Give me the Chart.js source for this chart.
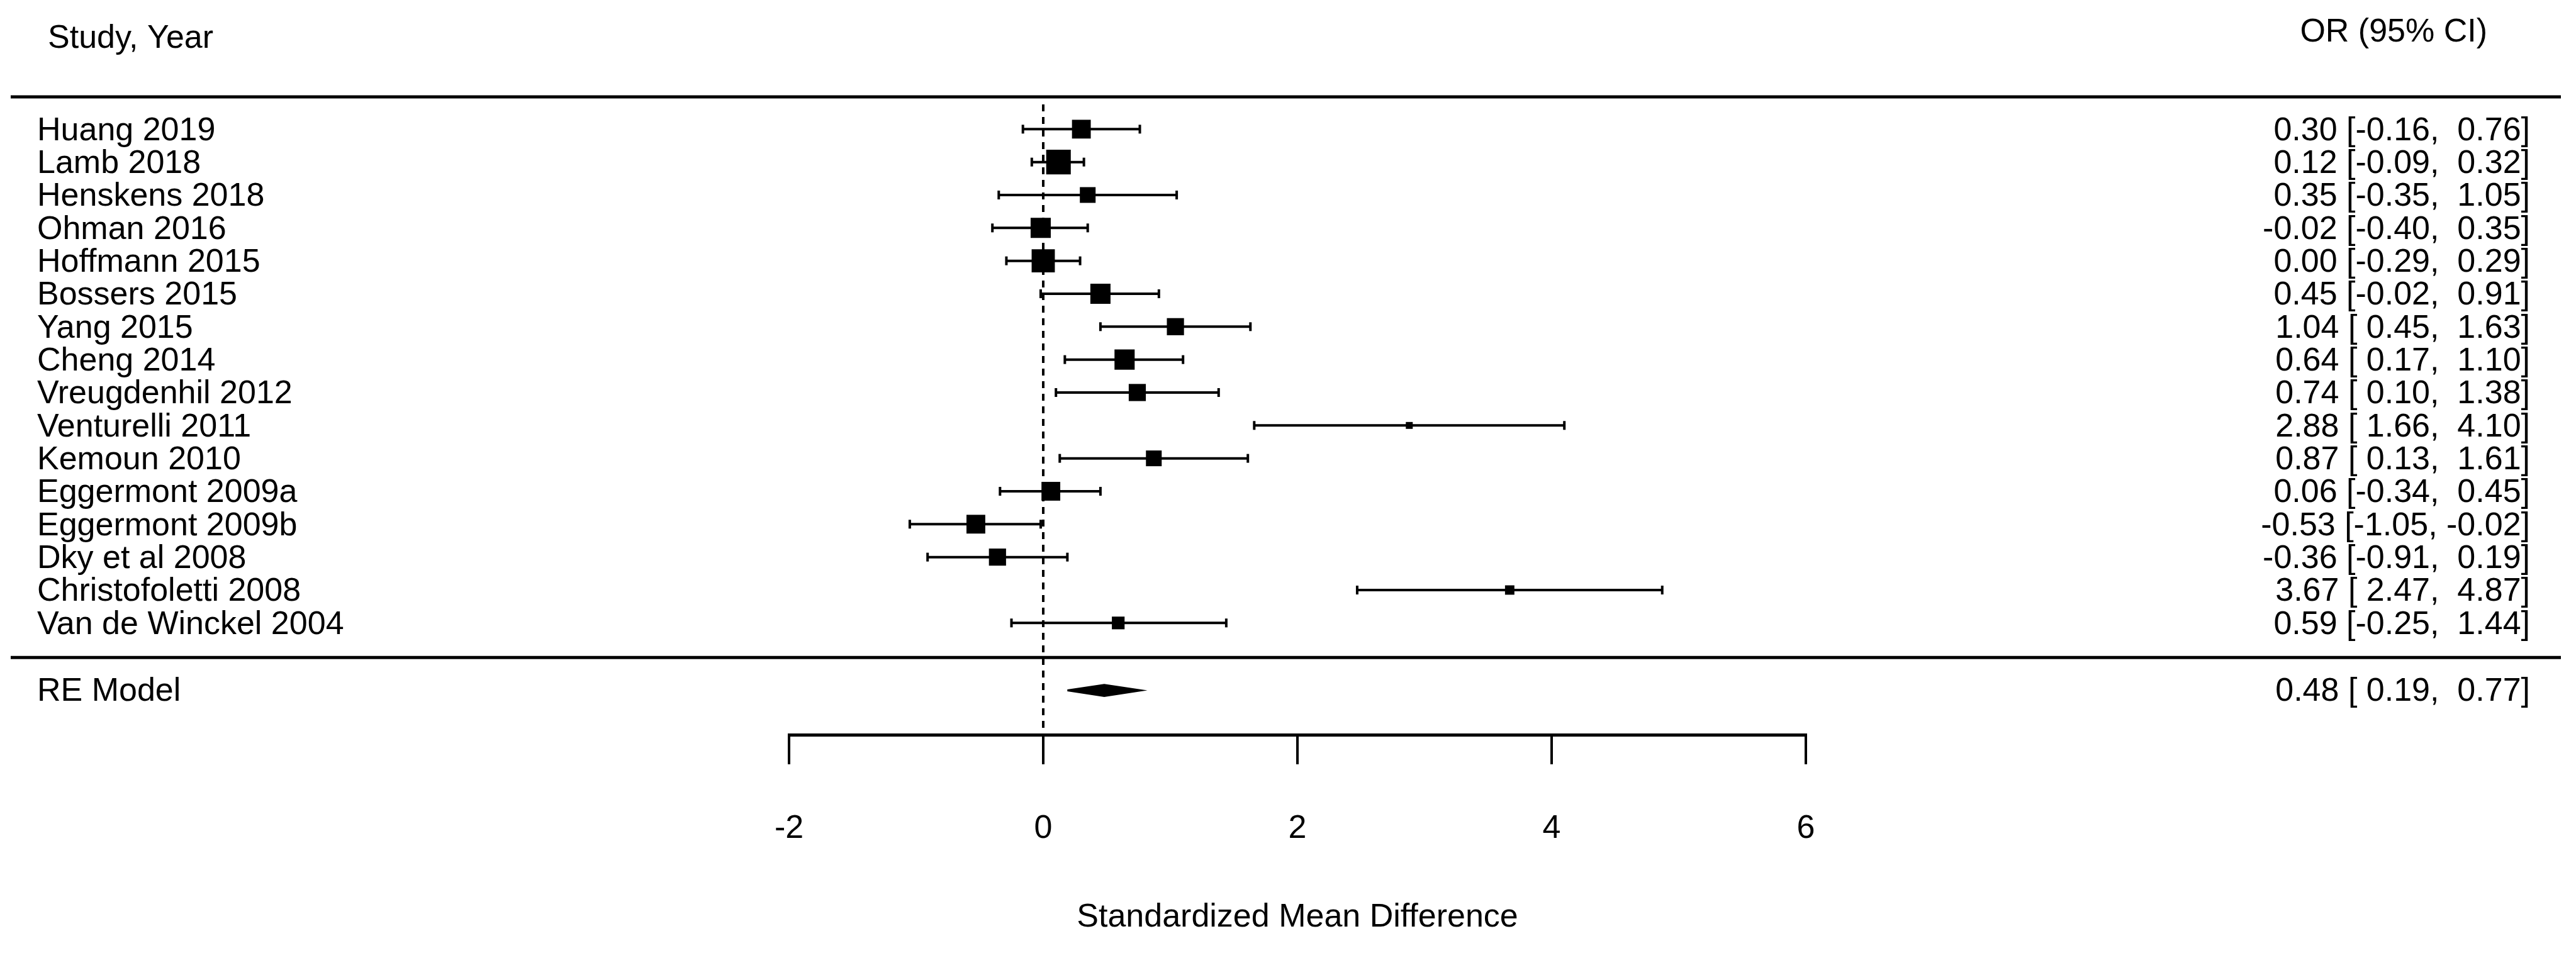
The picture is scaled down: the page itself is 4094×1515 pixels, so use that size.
<!DOCTYPE html>
<html>
<head>
<meta charset="utf-8">
<style>
  html, body { margin: 0; padding: 0; background: #ffffff; }
  canvas { display: block; }
</style>
<script src="https://cdn.jsdelivr.net/npm/chart.js@4.4.1/dist/chart.umd.min.js"></script>
</head>
<body>
<canvas id="forest" width="4094" height="1515"></canvas>
<script>
// ---------------- data ----------------
const studies = [
  "Huang 2019", "Lamb 2018", "Henskens 2018", "Ohman 2016", "Hoffmann 2015",
  "Bossers 2015", "Yang 2015", "Cheng 2014", "Vreugdenhil 2012", "Venturelli 2011",
  "Kemoun 2010", "Eggermont 2009a", "Eggermont 2009b", "Dky et al 2008",
  "Christofoletti 2008", "Van de Winckel 2004"
];
const estimates = [0.30, 0.12, 0.35, -0.02, 0.00, 0.45, 1.04, 0.64, 0.74, 2.88, 0.87, 0.06, -0.53, -0.36, 3.67, 0.59];
const lowerCI   = [-0.16, -0.09, -0.35, -0.40, -0.29, -0.02, 0.45, 0.17, 0.10, 1.66, 0.13, -0.34, -1.05, -0.91, 2.47, -0.25];
const upperCI   = [0.76, 0.32, 1.05, 0.35, 0.29, 0.91, 1.63, 1.10, 1.38, 4.10, 1.61, 0.45, -0.02, 0.19, 4.87, 1.44];
const weights   = [6.8, 8.9, 5.7, 7.3, 8.4, 7.3, 6.2, 7.3, 6.2, 2.5, 5.7, 6.8, 6.8, 6.2, 3.4, 4.6];

const summaryLabel = "RE Model";
const summaryEstimate = 0.48;
const summaryLower = 0.19;
const summaryUpper = 0.77;

const xTicks = [-2, 0, 2, 4, 6];
const xTitle = "Standardized Mean Difference";
const headerLeft = "Study, Year";
const headerRight = "OR (95% CI)";

// ---------------- layout / style ----------------
const FONT = '"Liberation Sans", Arial, Helvetica, sans-serif';
const FONT_SIZE = 52;
const studyRows = studies.map((_, i) => i + 1);
const topRuleRow = 0.02;
const separatorRow = 17.05;
const summaryRow = 18.05;
const dashTopRow = 0.25;
const Y_MIN = -2.3955, Y_MAX = 19.3955;
const DIAMOND_HALF = 0.17;       // rows
const PX_PER_WEIGHT = 4.39;      // square side per % weight

function fmt(v) { return v.toFixed(2).padStart(5, " "); }
function ciText(e, l, u) { return fmt(e) + " [" + fmt(l) + ", " + fmt(u) + "]"; }

// CI line segments with gaps
const ciLineData = [];
studies.forEach((_, i) => {
  ciLineData.push({ x: lowerCI[i], y: studyRows[i] });
  ciLineData.push({ x: upperCI[i], y: studyRows[i] });
  ciLineData.push({ x: upperCI[i], y: null });
});
const capData = [];
studies.forEach((_, i) => {
  capData.push({ x: lowerCI[i], y: studyRows[i] });
  capData.push({ x: upperCI[i], y: studyRows[i] });
});
const pointData = studies.map((_, i) => ({ x: estimates[i], y: studyRows[i] }));
const pointRadii = weights.map(w => (w * PX_PER_WEIGHT) / Math.SQRT2);
const diamondData = [
  { x: summaryLower, y: summaryRow },
  { x: summaryEstimate, y: summaryRow - DIAMOND_HALF },
  { x: summaryUpper, y: summaryRow },
  { x: summaryEstimate, y: summaryRow + DIAMOND_HALF },
  { x: summaryLower, y: summaryRow }
];
const zeroLineData = [{ x: 0, y: dashTopRow }, { x: 0, y: Y_MAX }];

// ---------------- text + rules plugin ----------------
const forestText = {
  id: 'forestText',
  afterDraw(chart) {
    const ctx = chart.ctx;
    const ys = chart.scales.y;
    ctx.save();
    // horizontal rules
    ctx.strokeStyle = '#000';
    ctx.lineWidth = 5;
    [topRuleRow, separatorRow].forEach(r => {
      const py = ys.getPixelForValue(r);
      ctx.beginPath();
      ctx.moveTo(17, py);
      ctx.lineTo(4070, py);
      ctx.stroke();
    });
    ctx.fillStyle = '#000';
    ctx.font = FONT_SIZE + 'px ' + FONT;
    ctx.textBaseline = 'middle';
    // headers
    ctx.textAlign = 'left';
    ctx.fillText(headerLeft, 76, 62);
    ctx.textAlign = 'right';
    ctx.fillText(headerRight, 3953, 52);
    // study rows
    studies.forEach((s, i) => {
      const py = ys.getPixelForValue(studyRows[i]) + 3;
      ctx.textAlign = 'left';
      ctx.fillText(s, 59, py);
      ctx.textAlign = 'right';
      ctx.fillText(ciText(estimates[i], lowerCI[i], upperCI[i]), 4021, py);
    });
    // summary row
    const sy = ys.getPixelForValue(summaryRow) + 2;
    ctx.textAlign = 'left';
    ctx.fillText(summaryLabel, 59, sy);
    ctx.textAlign = 'right';
    ctx.fillText(ciText(summaryEstimate, summaryLower, summaryUpper), 4021, sy);
    ctx.restore();
  }
};

Chart.defaults.font.family = FONT;
Chart.defaults.color = '#000';

new Chart(document.getElementById('forest'), {
  type: 'scatter',
  data: {
    datasets: [
      {
        type: 'scatter', label: 'Estimates', data: pointData, order: 0,
        pointStyle: 'rect', pointRadius: pointRadii, pointHoverRadius: pointRadii,
        backgroundColor: '#000', borderColor: '#000', borderWidth: 0, clip: false
      },
      {
        type: 'scatter', label: 'Caps', data: capData, order: 1,
        pointStyle: 'line', rotation: 90, pointRadius: 7, pointHoverRadius: 7,
        borderColor: '#000', borderWidth: 4, clip: false
      },
      {
        type: 'line', label: 'CI', data: ciLineData, order: 2,
        borderColor: '#000', borderWidth: 4, pointRadius: 0, spanGaps: false,
        tension: 0, fill: false, clip: false
      },
      {
        type: 'line', label: 'Summary', data: diamondData, order: 1,
        borderColor: '#000', backgroundColor: '#000', borderWidth: 3,
        pointRadius: 0, tension: 0, fill: 'shape', clip: false
      },
      {
        type: 'line', label: 'Zero', data: zeroLineData, order: 5,
        borderColor: '#000', borderWidth: 4, borderDash: [11, 9],
        pointRadius: 0, fill: false, clip: false
      }
    ]
  },
  options: {
    responsive: false,
    animation: false,
    devicePixelRatio: 1,
    events: [],
    layout: { padding: { left: 1254, right: 1224, top: 0, bottom: 24.8 } },
    plugins: { legend: { display: false }, tooltip: { enabled: false } },
    scales: {
      x: {
        type: 'linear', position: 'bottom', min: -2, max: 6,
        afterBuildTicks: (scale) => { scale.ticks = xTicks.map(v => ({ value: v })); },
        grid: { drawOnChartArea: false, drawTicks: true, tickLength: 47, tickWidth: 4,
                lineWidth: 4, color: '#000', tickColor: '#000' },
        border: { display: true, color: '#000', width: 5 },
        ticks: { color: '#000', font: { size: FONT_SIZE, family: FONT, lineHeight: 1.2 },
                 padding: 71.8, maxRotation: 0, autoSkip: false,
                 callback: (v) => String(v) },
        title: { display: true, text: xTitle, color: '#000',
                 font: { size: FONT_SIZE, family: FONT, lineHeight: 1.2 },
                 padding: { top: 6.8, bottom: 0 } }
      },
      y: { type: 'linear', display: false, min: Y_MIN, max: Y_MAX, reverse: true }
    }
  },
  plugins: [forestText]
});
</script>
</body>
</html>
